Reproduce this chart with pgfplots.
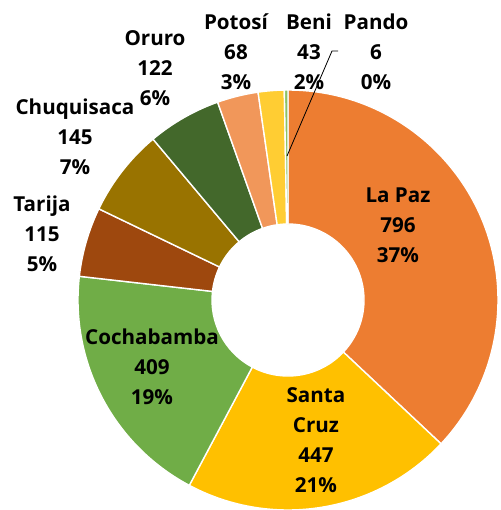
\documentclass[border=0pt]{standalone}
\usepackage{pgfplots}
\pgfplotsset{compat=1.18}
\usepackage{pgfplotstable}
\usepackage{fontspec}
\setmainfont{Open Sans}
\usetikzlibrary{calc}

\definecolor{cLaPaz}{HTML}{ED7D31}
\definecolor{cSantaCruz}{HTML}{FFC000}
\definecolor{cCocha}{HTML}{70AD47}
\definecolor{cTarija}{HTML}{9E480E}
\definecolor{cChuqui}{HTML}{997300}
\definecolor{cOruro}{HTML}{43682B}
\definecolor{cPotosi}{HTML}{F1975A}
\definecolor{cBeni}{HTML}{FFCD33}
\definecolor{cPando}{HTML}{8CC168}

% departamento: La Paz, Santa Cruz, Cochabamba, Tarija, Chuquisaca, Oruro, Potosi, Beni, Pando
\pgfplotstableread{
value color
796 cLaPaz
447 cSantaCruz
409 cCocha
115 cTarija
145 cChuqui
122 cOruro
68 cPotosi
43 cBeni
6 cPando
}\deptos

\tikzset{lbl/.style={align=center, font=\bfseries\fontsize{10.3}{15}\selectfont}}

\begin{document}
\begin{tikzpicture}
\begin{axis}[
    width=250pt, height=255pt, scale only axis,
    hide axis,
    xmin=0, xmax=500, ymin=0, ymax=510,
    clip=false,
]
\pgfplotsextra{
    \coordinate (c) at (axis cs:288,210);
    \pgfplotstablegetrowsof{\deptos}
    \pgfmathtruncatemacro{\n}{\pgfplotsretval-1}
    \gdef\total{0}
    \foreach \i in {0,...,\n}{
        \pgfplotstablegetelem{\i}{value}\of\deptos
        \pgfmathsetmacro{\t}{\total+\pgfplotsretval}
        \xdef\total{\t}
    }
    \gdef\cum{0}
    \foreach \i in {0,...,\n}{
        \pgfplotstablegetelem{\i}{value}\of\deptos \let\v\pgfplotsretval
        \pgfplotstablegetelem{\i}{color}\of\deptos \let\col\pgfplotsretval
        \pgfmathsetmacro{\aa}{90-360*(\cum/\total)}
        \pgfmathsetmacro{\ab}{90-360*((\cum+\v)/\total)}
        \fill[fill=\col, draw=white, line width=0.7pt]
            ($(c)+(\aa:105pt)$) arc[start angle=\aa, end angle=\ab, radius=105pt]
            -- ($(c)+(\ab:38pt)$) arc[start angle=\ab, end angle=\aa, radius=38pt] -- cycle;
        \pgfmathsetmacro{\newcum}{\cum+\v}
        \xdef\cum{\newcum}
    }
}
\node[lbl] at (axis cs:398,285) {La Paz\\796\\37\%};
\node[lbl] at (axis cs:316,70) {Santa\\Cruz\\447\\21\%};
\node[lbl] at (axis cs:152,143) {Cochabamba\\409\\19\%};
\node[lbl] at (axis cs:42,276) {Tarija\\115\\5\%};
\node[lbl] at (axis cs:75,373) {Chuquisaca\\145\\7\%};
\node[lbl] at (axis cs:155,442) {Oruro\\122\\6\%};
\node[lbl] at (axis cs:236,458) {Potosí\\68\\3\%};
\node[lbl] at (axis cs:309,458) {Beni\\43\\2\%};
\node[lbl] at (axis cs:376,458) {Pando\\6\\0\%};
\draw[black, line width=0.4pt] (axis cs:338,459) -- (axis cs:332,459) -- (axis cs:287,354);
\end{axis}
\pgfresetboundingbox
\useasboundingbox (current axis.south west) rectangle (current axis.north east);
\end{tikzpicture}
\end{document}
